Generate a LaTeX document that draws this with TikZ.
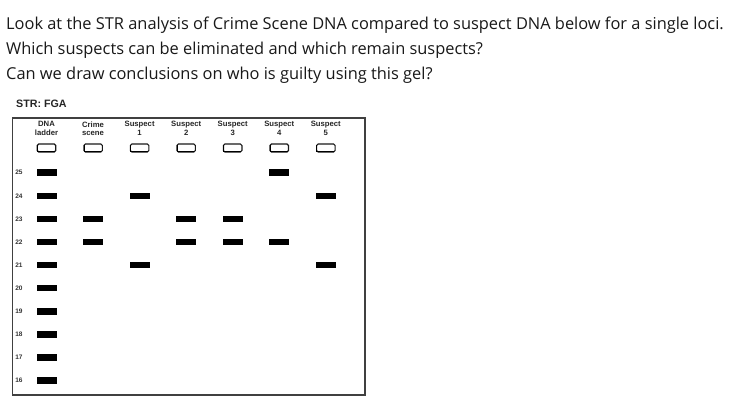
\documentclass[tikz,border=0pt]{standalone}
\usepackage{fontspec}
\setmainfont{Open Sans}
\newfontfamily\gelfont{Liberation Sans}
\begin{document}
\begin{tikzpicture}[x=1pt,y=-1pt,
  qtext/.style={anchor=base west,inner sep=0pt,font=\fontsize{16.4}{19}\selectfont,text=black!90},
  geltitle/.style={anchor=west,inner sep=0pt,font=\gelfont\bfseries\fontsize{10.7}{11}\selectfont,text=black!85},
  lanehead/.style={anchor=center,inner sep=0pt,align=center,font=\gelfont\bfseries\fontsize{7.7}{8.4}\selectfont,text=black!85},
  sizelab/.style={anchor=center,inner sep=0pt,font=\gelfont\bfseries\fontsize{6.5}{7}\selectfont,text=black!80},
  band/.style={rectangle,fill=black,draw=none,minimum width=20pt,minimum height=6.5pt,inner sep=0pt},
  well/.style={rectangle,draw=black!90,line width=1.1pt,rounded corners=1.5pt,minimum width=18.5pt,minimum height=8pt,inner sep=0pt},
  wellshade/.style={draw=black,line width=0.9pt},
  gelbox/.style={draw=black!75,line width=1.4pt}
]
\useasboundingbox (0,0) rectangle (747,412);
\fill[white] (0,0) rectangle (747,412);

% question text
\node[qtext] (q1) at (6,29.5) {Look at the STR analysis of Crime Scene DNA compared to suspect DNA below for a single loci.};
\node[qtext] (q2) at (6,54.5) {Which suspects can be eliminated and which remain suspects?};
\node[qtext] (q3) at (6,79.3) {Can we draw conclusions on who is guilty using this gel?};

% title
\node[geltitle] (title) at (16,103.5) {STR: FGA};

% gel box
\draw[gelbox] (12.5,118) rectangle (365,395);

% lane headers and wells
\foreach \i/\t in {0/{DNA\\ladder},1/{Crime\\scene},2/{Suspect\\1},3/{Suspect\\2},4/{Suspect\\3},5/{Suspect\\4},6/{Suspect\\5}}{
  \pgfmathsetmacro{\lx}{46.5+46.55*\i}
  \node[lanehead] (h\i) at (\lx,128.5) {\t};
  \node[well] (w\i) at (\lx,148) {};
  \draw[wellshade] ([xshift=0.9pt,yshift=-1.5pt]w\i.north west) -- ([xshift=0.9pt,yshift=0.9pt]w\i.south west) -- ([xshift=-1.5pt,yshift=0.9pt]w\i.south east);
}

% size labels
\foreach \n in {25,24,...,16}{
  \pgfmathsetmacro{\ry}{172.7+23.1*(25-\n)}
  \node[sizelab] (s\n) at (19,\ry) {\n};
  \node[band] (L\n) at (46.5,\ry) {};
}

% sample bands: lane index / size
\foreach \i/\n in {1/23,1/22,2/24,2/21,3/23,3/22,4/23,4/22,5/25,5/22,6/24,6/21}{
  \pgfmathsetmacro{\lx}{46.5+46.55*\i}
  \pgfmathsetmacro{\ry}{172.7+23.1*(25-\n)}
  \node[band] (b\i-\n) at (\lx,\ry) {};
}
\end{tikzpicture}
\end{document}
